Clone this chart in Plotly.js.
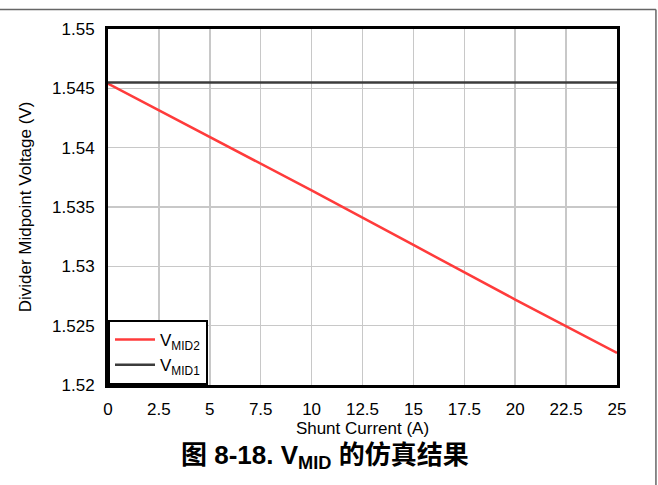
<!DOCTYPE html>
<html>
<head>
<meta charset="utf-8">
<script src="https://cdn.plot.ly/plotly-3.0.1.min.js"></script>
<style>
  html, body { margin: 0; padding: 0; background: #fff; }
  #chart { width: 658px; height: 485px; }
</style>
</head>
<body>
<div id="chart"></div>
<script>
// Data
const shuntCurrent = [0, 5, 10, 15, 20, 25];              // A
const vmid2 = [1.5454, 1.5409, 1.5364, 1.5318, 1.5272, 1.5227]; // V
const vmid1 = [1.5455, 1.5455, 1.5455, 1.5455, 1.5455, 1.5455]; // V
const seriesNames = ['V<sub>MID2</sub>', 'V<sub>MID1</sub>'];
const xTicks = [0, 2.5, 5, 7.5, 10, 12.5, 15, 17.5, 20, 22.5, 25];
const xTickLabels = ['0', '2.5', '5', '7.5', '10', '12.5', '15', '17.5', '20', '22.5', '25'];
const yTicks = [1.52, 1.525, 1.53, 1.535, 1.54, 1.545, 1.55];
const yTickLabels = ['1.52', '1.525', '1.53', '1.535', '1.54', '1.545', '1.55'];
const xTitle = 'Shunt Current (A)';
const yTitle = 'Divider Midpoint Voltage (V)';
const figTitle = '图 8-18. V<sub>MID</sub> 的仿真结果';

const FONT = 'Arial, "Liberation Sans", "Noto Sans CJK SC", sans-serif';

const traces = [
  { x: shuntCurrent, y: vmid2, name: seriesNames[0], type: 'scatter', mode: 'lines',
    line: { color: '#ff3b3b', width: 2.5 } },
  { x: shuntCurrent, y: vmid1, name: seriesNames[1], type: 'scatter', mode: 'lines',
    line: { color: '#3c3c3c', width: 2.5 } }
];

const layout = {
  width: 658, height: 485,
  margin: { l: 108, r: 41, t: 29, b: 100, pad: 0 },
  paper_bgcolor: '#ffffff', plot_bgcolor: '#ffffff',
  font: { family: FONT, size: 17, color: '#000' },
  showlegend: true,
  legend: {
    x: 0, y: 0, xanchor: 'left', yanchor: 'bottom',
    bgcolor: '#ffffff', bordercolor: '#000000', borderwidth: 2,
    font: { family: FONT, size: 17, color: '#000' },
    traceorder: 'normal', itemwidth: 40
  },
  xaxis: {
    range: [0, 25], tickmode: 'array', tickvals: xTicks, ticktext: xTickLabels,
    showgrid: true, gridcolor: '#c8c8c8', gridwidth: 1.5,
    showline: true, linecolor: '#000', linewidth: 3, mirror: true,
    ticks: '', zeroline: false, tickfont: { size: 17 }, ticklabelstandoff: 7,
    title: { text: xTitle, font: { size: 17 }, standoff: 2 }
  },
  yaxis: {
    range: [1.52, 1.55], tickmode: 'array', tickvals: yTicks, ticktext: yTickLabels,
    showgrid: true, gridcolor: '#c8c8c8', gridwidth: 1.5,
    showline: true, linecolor: '#000', linewidth: 3, mirror: true,
    ticks: '', zeroline: false, tickfont: { size: 17 }, ticklabelstandoff: 7,
    title: { text: yTitle, font: { size: 17 }, standoff: 17 }
  },
  annotations: [
    { text: '<b>' + figTitle + '</b>', xref: 'paper', yref: 'paper',
      x: 0.426, y: -0.202, xanchor: 'center', yanchor: 'middle', showarrow: false,
      font: { family: FONT, size: 26, color: '#000' } }
  ],
  shapes: [
    { type: 'line', xref: 'paper', yref: 'paper', x0: -0.215, x1: 1.0765, y0: 1.0545, y1: 1.0545,
      line: { color: '#666666', width: 1.5 } },
    { type: 'line', xref: 'paper', yref: 'paper', x0: 1.0765, x1: 1.0765, y0: 1.0545, y1: -0.29,
      line: { color: '#666666', width: 1.5 } }
  ]
};

Plotly.newPlot('chart', traces, layout, { displayModeBar: false, staticPlot: true });
</script>
</body>
</html>
